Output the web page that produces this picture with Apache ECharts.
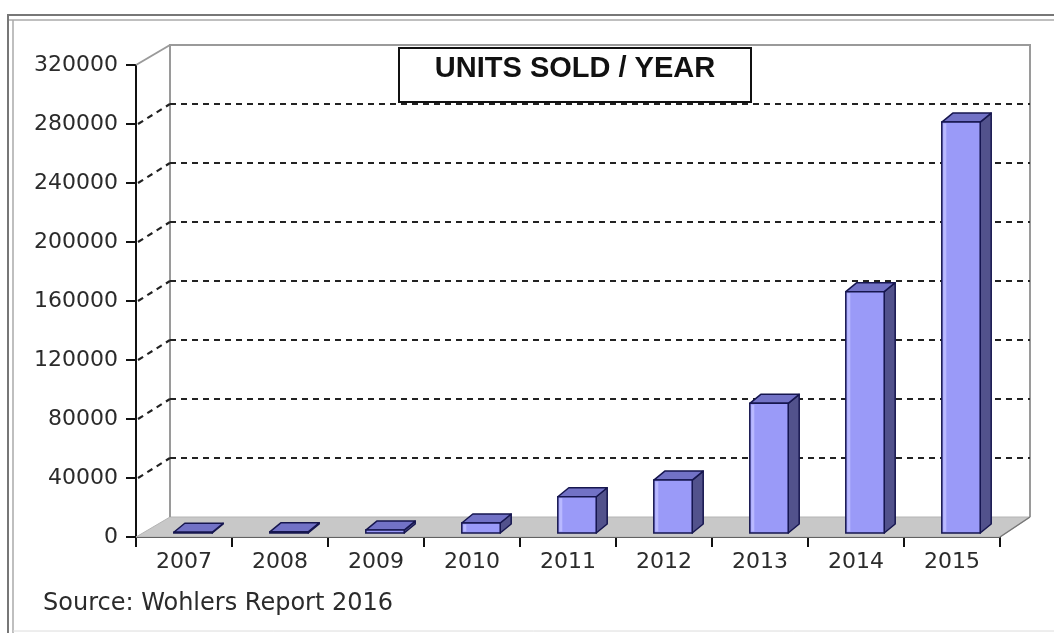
<!DOCTYPE html>
<html>
<head>
<meta charset="utf-8">
<script src="https://cdn.jsdelivr.net/npm/echarts@6/dist/echarts.min.js"></script>
<style>
html,body{margin:0;padding:0;background:#fff;}
#chart{width:1054px;height:633px;}
</style>
</head>
<body>
<div id="chart"></div>
<script>
// ---- data ----
const categories = ['2007', '2008', '2009', '2010', '2011', '2012', '2013', '2014', '2015'];
const unitsSold = [500, 800, 2000, 6800, 24600, 35900, 87900, 163600, 278600];
const gridValues = [40000, 80000, 120000, 160000, 200000, 240000, 280000];
const yMin = 0, yMax = 320000, yInterval = 40000;
const titleText = 'UNITS SOLD / YEAR';
const sourceText = 'Source: Wohlers Report 2016';

// ---- 3D look constants ----
const WX = 34, WY = -20;   // back wall offset
const FX = 9, FY = -4;     // bar front-face offset from front plane
const BX = 11, BY = -9;    // bar depth
const FONT = 'DejaVu Sans';

const chart = echarts.init(document.getElementById('chart'), null, {renderer: 'canvas'});

function frameItem(params, api) {
  const cs = params.coordSys;
  const l = cs.x, r = cs.x + cs.width, t = cs.y, b = cs.y + cs.height;
  const gray = '#9a9a9a';
  const RX = WX - 4;
  return {
    type: 'group',
    children: [
      { type: 'polygon', shape: { points: [[l, b], [r, b], [r + RX, b + WY], [l + WX, b + WY]] },
        style: { fill: '#c8c8c8', stroke: '#b4b4b4', lineWidth: 1 } },
      { type: 'polyline', shape: { points: [[l + WX, b + WY], [l + WX, t + WY], [r + RX, t + WY], [r + RX, b + WY]] },
        style: { fill: null, stroke: gray, lineWidth: 2 } },
      { type: 'line', shape: { x1: l, y1: t, x2: l + WX, y2: t + WY },
        style: { stroke: gray, lineWidth: 2 } },
      { type: 'line', shape: { x1: r, y1: b, x2: r + RX, y2: b + WY },
        style: { stroke: '#777', lineWidth: 1.5 } }
    ]
  };
}

function gridItem(params, api) {
  const cs = params.coordSys;
  const l = cs.x, r = cs.x + cs.width;
  const y = api.coord([0, api.value(1)])[1];
  const st = { stroke: '#222', lineWidth: 2.2, lineDash: [6, 5] };
  return {
    type: 'group',
    children: [
      { type: 'line', shape: { x1: l + 2, y1: y, x2: l + WX, y2: y + WY }, style: st },
      { type: 'line', shape: { x1: l + WX, y1: y + WY, x2: r + WX - 4, y2: y + WY }, style: st }
    ]
  };
}

function barItem(params, api) {
  const idx = api.value(0), val = api.value(1);
  const top = api.coord([idx, val]);
  const base = api.coord([idx, 0]);
  const w = api.size([1, 0])[0] * 0.4;
  const x0 = top[0] - w / 2 + FX, x1 = x0 + w;
  const yT = top[1] + FY, yB = base[1] + FY;
  const edge = '#16164f';
  return {
    type: 'group',
    children: [
      { type: 'polygon', shape: { points: [[x1, yB], [x1 + BX, yB + BY], [x1 + BX, yT + BY], [x1, yT]] },
        style: { fill: '#52528c', stroke: edge, lineWidth: 1.5, lineJoin: 'round' } },
      { type: 'polygon', shape: { points: [[x0, yT], [x1, yT], [x1 + BX, yT + BY], [x0 + BX, yT + BY]] },
        style: { fill: '#7272c6', stroke: edge, lineWidth: 1.5, lineJoin: 'round' } },
      { type: 'rect', shape: { x: x0, y: yT, width: w, height: Math.max(yB - yT, 0.5) },
        style: { fill: '#9a9af8', stroke: edge, lineWidth: 1.5 } },
      { type: 'rect', shape: { x: x0 + 1.5, y: yT + 1.5, width: 3, height: Math.max(yB - yT - 3, 0) },
        style: { fill: '#b9b9ff' } }
    ]
  };
}

const option = {
  backgroundColor: '#ffffff',
  animation: false,
  grid: { left: 136, right: 54, top: 65, bottom: 96, containLabel: false },
  xAxis: {
    type: 'category',
    data: categories,
    axisLine: { show: true, lineStyle: { color: '#111', width: 2 } },
    axisTick: { show: true, alignWithLabel: false, length: 10, lineStyle: { color: '#111', width: 2 } },
    axisLabel: { fontFamily: FONT, fontSize: 22, color: '#2b2b2b', margin: 14 },
    splitLine: { show: false }
  },
  yAxis: {
    type: 'value',
    min: yMin, max: yMax, interval: yInterval,
    axisLine: { show: true, lineStyle: { color: '#111', width: 2 } },
    axisTick: { show: true, length: 10, lineStyle: { color: '#111', width: 2 } },
    axisLabel: { fontFamily: FONT, fontSize: 22, color: '#2b2b2b', margin: 18,
                 formatter: v => String(v) },
    splitLine: { show: false }
  },
  graphic: [
    { type: 'line', shape: { x1: 8, y1: 15, x2: 1054, y2: 15 }, style: { stroke: '#777', lineWidth: 2 } },
    { type: 'line', shape: { x1: 8, y1: 20, x2: 1054, y2: 20 }, style: { stroke: '#aaa', lineWidth: 1.5 } },
    { type: 'line', shape: { x1: 8, y1: 14, x2: 8, y2: 633 }, style: { stroke: '#777', lineWidth: 2 } },
    { type: 'line', shape: { x1: 13, y1: 20, x2: 13, y2: 633 }, style: { stroke: '#aaa', lineWidth: 1.5 } },
    { type: 'line', shape: { x1: 13, y1: 631, x2: 1054, y2: 631 }, style: { stroke: '#dcdcdc', lineWidth: 1 } },
    { type: 'rect', z: 100, shape: { x: 399, y: 48, width: 352, height: 54 },
      style: { fill: '#fff', stroke: '#111', lineWidth: 2 } },
    { type: 'text', z: 101, x: 575, y: 69,
      style: { text: titleText, font: 'bold 29px "Liberation Sans", Arial, sans-serif', fill: '#111',
               textAlign: 'center', textVerticalAlign: 'middle' } },
    { type: 'text', x: 43, y: 604,
      style: { text: sourceText, font: '24px "DejaVu Sans"', fill: '#2b2b2b',
               textAlign: 'left', textVerticalAlign: 'middle' } }
  ],
  series: [
    { type: 'custom', name: 'frame', renderItem: frameItem, data: [[0, 0]], z: 1, silent: true },
    { type: 'custom', name: 'grid', renderItem: gridItem, data: gridValues.map(v => [0, v]), z: 2, silent: true },
    { type: 'custom', name: 'Units sold', renderItem: barItem,
      data: unitsSold.map((v, i) => [i, v]), z: 3 }
  ]
};
chart.setOption(option);
</script>
</body>
</html>
